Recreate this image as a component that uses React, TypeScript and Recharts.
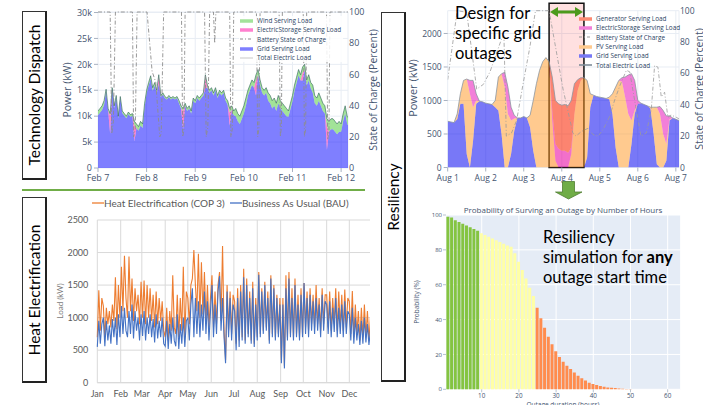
import React from 'react';
import {
  ComposedChart,
  LineChart,
  BarChart,
  Area,
  Line,
  Bar,
  Cell,
  XAxis,
  YAxis,
  CartesianGrid,
  ReferenceArea,
} from 'recharts';

// ---------- Technology Dispatch (Feb 7 - Feb 12), kW per hour ----------
const dispatchHours = [
  0, 1, 2, 3, 4, 5, 6, 7, 8, 9, 10, 11, 12, 13, 14, 15, 16, 17, 18, 19, 20, 21, 22, 23,
  24, 25, 26, 27, 28, 29, 30, 31, 32, 33, 34, 35, 36, 37, 38, 39, 40, 41, 42, 43, 44, 45, 46, 47,
  48, 49, 50, 51, 52, 53, 54, 55, 56, 57, 58, 59, 60, 61, 62, 63, 64, 65, 66, 67, 68, 69, 70, 71,
  72, 73, 74, 75, 76, 77, 78, 79, 80, 81, 82, 83, 84, 85, 86, 87, 88, 89, 90, 91, 92, 93, 94, 95,
  96, 97, 98, 99, 100, 101, 102, 103, 104, 105, 106, 107, 108, 109, 110, 111, 112, 113, 114, 115, 116, 117, 118, 119,
  120, 121, 122, 123, 124,
];
const dispatchGrid = [
  10200, 10700, 11200, 12200, 14800, 11100, 6600, 15100, 11600, 13600, 9600, 13400, 10600, 10100, 9600, 10400, 9900, 10100, 5200, 7700, 7200, 8200, 7700, 11700,
  14400, 15900, 17200, 14900, 15900, 14400, 16200, 13700, 14200, 13500, 13200, 13700, 13200, 13500, 13200, 13500, 12500, 11500, 7500, 12000, 11000, 11500, 10500, 13000,
  12500, 13500, 13000, 13500, 14000, 15500, 15500, 14500, 15000, 14000, 15000, 13500, 14500, 14000, 14500, 13000, 12200, 8200, 11200, 10200, 10000, 9000, 8500, 9500,
  10500, 12000, 14000, 15000, 16000, 15500, 14000, 18000, 16000, 14500, 14000, 14500, 13000, 12500, 11500, 12000, 11000, 12500, 11500, 11000, 10500, 10000, 9900, 11400,
  12900, 14900, 16400, 17900, 16900, 16900, 18900, 15900, 16900, 15400, 14500, 12500, 12000, 13000, 12000, 11000, 10500, 3500, 7000, 7500, 7500, 7000, 6500, 7000,
  7000, 9000, 10500, 8500, 8000,
];
const dispatchStorage = [
  0, 0, 0, 0, 0, 0, 3500, 0, 0, 0, 0, 0, 0, 0, 0, 0, 0, 0, 3000, 0, 0, 0, 0, 0,
  0, 0, 0, 0, 0, 0, 1500, 0, 0, 0, 0, 0, 0, 0, 0, 0, 0, 0, 3500, 0, 0, 0, 0, 0,
  0, 0, 0, 0, 0, 2000, 0, 0, 0, 0, 0, 0, 0, 0, 0, 0, 0, 2500, 0, 0, 0, 0, 0, 0,
  0, 0, 0, 0, 0, 0, 3000, 0, 0, 0, 0, 0, 0, 0, 0, 0, 0, 0, 0, 0, 0, 0, 0, 0,
  0, 0, 0, 0, 0, 1500, 0, 0, 0, 0, 0, 0, 0, 0, 0, 0, 0, 4500, 0, 0, 0, 0, 0, 0,
  0, 0, 0, 0, 0,
];
const dispatchWind = [
  800, 800, 800, 800, 400, 400, 400, 400, 400, 400, 400, 400, 400, 400, 400, 400, 400, 400, 800, 800, 800, 800, 800, 800,
  600, 600, 600, 600, 600, 600, 300, 300, 300, 300, 300, 300, 300, 300, 300, 300, 500, 500, 500, 500, 500, 500, 500, 500,
  500, 500, 500, 500, 500, 500, 500, 500, 500, 500, 500, 500, 500, 500, 500, 500, 800, 800, 800, 800, 1500, 1500, 1500, 1500,
  1500, 1500, 1000, 1000, 1000, 1000, 1000, 1000, 1000, 1000, 1000, 1000, 1500, 1500, 1500, 1500, 1500, 1500, 1500, 1500, 1500, 1500, 1100, 1100,
  1100, 1100, 1100, 1100, 1100, 1100, 1100, 1100, 1100, 1100, 1500, 1500, 1500, 1500, 1500, 1500, 1500, 1500, 2000, 2000, 2000, 2000, 2000, 2000,
  1500, 1500, 1500, 1500, 1500,
];
const dispatchSocHours = [
  0, 6, 6.8, 7.6, 8.6, 17, 17.6, 18.4, 19.3, 24.2, 26.7, 28.5, 30.5, 31.2, 32.4, 41.2, 41.8, 42.4, 43, 52.6, 53.4, 54.2,
  55.1, 57, 57.6, 58.2, 65, 65.6, 66.3, 67, 78.2, 78.8, 79.4, 80, 89.4, 90, 90.5, 91, 101.3, 101.9, 102.5, 103, 112.8,
  113.4, 114, 114.5, 123.4,
];
const dispatchSoc = [
  100, 100, 22, 30, 100, 100, 20, 25, 100, 100, 62, 55, 20, 22, 100, 100, 20, 24, 100, 100, 20, 26, 100, 100, 80, 100,
  100, 20, 25, 100, 100, 20, 25, 100, 100, 20, 26, 100, 100, 20, 25, 100, 100, 18, 24, 100, 100,
];
const dispatchTicks = [0, 24, 48, 72, 96, 120];
const dispatchTickLabels = ['Feb 7', 'Feb 8', 'Feb 9', 'Feb 10', 'Feb 11', 'Feb 12'];
const dispatchKwTicks = [0, 5000, 10000, 15000, 20000, 25000, 30000];

// ---------- Resiliency: outage design (Aug 1 - Aug 7), kW every 2 hours ----------
const outageHours = [
  0, 2, 4, 6, 8, 10, 12, 14, 16, 18, 20, 22, 24, 26, 28, 30, 32, 34, 36, 38, 40, 42, 44, 46, 48, 50, 52, 54, 56, 58, 60,
  62, 64, 66, 68, 70, 72, 74, 76, 78, 80, 82, 84, 86, 88, 90, 92, 94, 96, 98, 100, 102, 104, 106, 108, 110, 112, 114,
  116, 118, 120, 122, 124, 126, 128, 130, 132, 134, 136, 138, 140, 142, 144, 146,
];
const outageGrid = [
  690, 680, 670, 720, 950, 950, 200, 0, 400, 950, 990, 980, 960, 950, 940, 900, 850, 500, 0, 0, 200, 550, 740, 740, 760,
  740, 600, 250, 0, 0, 0, 0, 0, 0, 0, 0, 0, 0, 0, 0, 0, 0, 0, 0, 150, 900, 1080, 1060, 1050, 1040, 1030, 1020, 800, 300,
  0, 0, 0, 0, 350, 800, 950, 960, 940, 920, 880, 500, 50, 0, 0, 100, 700, 740, 720, 700,
];
const outagePv = [
  0, 0, 0, 80, 150, 350, 1120, 1100, 500, 50, 0, 0, 0, 0, 0, 100, 500, 900, 1200, 800, 500, 180, 0, 0, 0, 0, 180, 750,
  1250, 1450, 1580, 1640, 1580, 700, 100, 0, 0, 0, 0, 200, 800, 1150, 1300, 1340, 1150, 200, 0, 0, 0, 0, 0, 30, 300, 900,
  1300, 1280, 1050, 800, 350, 50, 0, 0, 0, 0, 20, 400, 850, 800, 500, 250, 20, 0, 0, 0,
];
const outageStorage = [
  0, 0, 0, 0, 0, 0, 0, 200, 400, 100, 0, 0, 0, 0, 0, 0, 0, 0, 220, 400, 200, 50, 0, 0, 0, 0, 0, 0, 0, 0, 0, 0, 0, 150,
  250, 280, 250, 250, 220, 100, 0, 0, 0, 0, 0, 0, 0, 0, 0, 0, 0, 0, 0, 0, 0, 60, 300, 580, 700, 450, 50, 0, 0, 0, 0, 0,
  0, 110, 350, 420, 50, 0, 0, 0,
];
const outageGenerator = [
  0, 0, 0, 0, 0, 0, 0, 0, 0, 0, 0, 0, 0, 0, 0, 0, 0, 0, 0, 0, 0, 0, 0, 0, 0, 0, 0, 0, 0, 0, 0, 0, 0, 500, 650, 670, 680,
  690, 700, 700, 450, 160, 40, 0, 0, 0, 0, 0, 0, 0, 0, 0, 0, 0, 0, 0, 0, 0, 0, 0, 0, 0, 0, 0, 0, 0, 0, 0, 0, 0, 0, 0, 0,
  0,
];
const outageSocHours = [
  0, 6, 12, 18.3, 22.5, 26.7, 34, 35.5, 37, 40.3, 43.5, 47.7, 51.9, 55.4, 64, 72.8, 79, 81, 84.4, 88.6, 91.7, 94.9, 98,
  102, 105.4, 108.6, 112.8, 114.9, 119, 122, 125.4, 128.5, 130.6, 132.7, 134.8, 136.9, 139, 141, 144.3, 146,
];
const outageSoc = [
  56, 100, 99, 50, 53, 61, 82, 84, 20, 22, 30, 54, 77, 100, 100, 50, 22, 20, 23, 25, 21, 20, 24, 32, 43, 52, 62, 61, 37,
  20, 22, 37, 65, 64, 45, 48, 32, 33.5, 32, 31,
];
const outageTicks = [0, 24, 48, 72, 96, 120, 144];
const outageTickLabels = ['Aug 1', 'Aug 2', 'Aug 3', 'Aug 4', 'Aug 5', 'Aug 6', 'Aug 7'];
const outageKwTicks = [0, 500, 1000, 1500, 2000];
const outageWindow = [64, 86];

// ---------- Heat Electrification, load (kW) every 2 days, Jan..Dec ----------
const heatCop3 = [
  700, 1420, 800, 1300, 1180, 700, 1150, 900, 1100, 850, 1200, 950, 1620, 820, 1500, 1000,
  1780, 1100, 1950, 1300, 1000, 1940, 1100, 1600, 950, 1450, 1100, 1350, 900, 1550,
  1000, 1570, 900, 1500, 1000, 1450, 950, 1350, 850, 1400, 900, 1300, 950, 1250, 800,
  700, 1150, 650, 1100, 800, 1650, 850, 750, 1350, 700, 1300, 800, 1780, 700, 1400,
  1300, 900, 1500, 1600, 2040, 1500, 1100, 1980, 1000, 1850, 1050, 1700, 950, 1500, 850, 1300,
  1650, 850, 1400, 900, 1500, 1700, 950, 2100, 800, 350, 1500, 800, 1400, 750, 1350,
  1250, 600, 1450, 650, 1500, 700, 1750, 650, 1600, 750, 1400, 650, 1550, 600, 1300,
  700, 1700, 750, 1450, 800, 1550, 850, 1400, 650, 1650, 750, 1500, 700, 1350, 750, 1300,
  350, 1300, 260, 1650, 700, 1700, 750, 1450, 700, 1600, 750, 1350, 700, 1450, 750,
  1530, 850, 1400, 800, 1450, 900, 1350, 850, 1500, 900, 1300, 800, 1450, 900, 1350,
  1350, 850, 1400, 800, 1300, 900, 1450, 800, 1400, 850, 1350, 800, 1430, 850, 1300,
  1250, 750, 1410, 700, 1200, 750, 1100, 650, 1150, 700, 1200, 700, 1100, 650, 1000, 850,
];
const heatBau = [
  550, 950, 600, 900, 1000, 560, 950, 650, 880, 600, 980, 700, 1000, 580, 1050, 700,
  1180, 750, 1150, 800, 700, 1100, 750, 1200, 680, 1100, 800, 1000, 650, 1050,
  720, 1100, 650, 1000, 750, 1050, 700, 980, 620, 1050, 680, 950, 700, 1000, 600,
  560, 950, 520, 900, 600, 1000, 650, 560, 1050, 520, 900, 600, 1000, 550, 950,
  1000, 650, 1200, 1450, 700, 1300, 750, 1250, 700, 1200, 800, 1400, 750, 1250, 650, 1100,
  1500, 700, 1200, 750, 1400, 1640, 800, 1300, 700, 300, 1400, 700, 1300, 650, 1200,
  1100, 500, 1300, 550, 1400, 650, 1620, 600, 1500, 700, 1300, 600, 1450, 550, 1200,
  650, 1660, 700, 1400, 750, 1500, 800, 1300, 600, 1600, 700, 1450, 650, 1300, 700, 1200,
  300, 1200, 220, 1450, 650, 1600, 700, 1300, 650, 1500, 700, 1200, 650, 1350, 700,
  1530, 750, 1300, 700, 1350, 800, 1250, 750, 1300, 800, 1200, 700, 1350, 800, 1250,
  1200, 750, 1250, 700, 1150, 780, 1300, 700, 1150, 750, 1200, 700, 1250, 750, 1100,
  1050, 650, 1150, 600, 1000, 650, 900, 580, 950, 600, 1000, 620, 900, 580, 800, 600,
];
const monthStartDays = [0, 31, 59, 90, 120, 151, 181, 212, 243, 273, 304, 334];
const monthNames = ['Jan', 'Feb', 'Mar', 'Apr', 'May', 'Jun', 'Jul', 'Aug', 'Sep', 'Oct', 'Nov', 'Dec'];
const heatKwTicks = [0, 500, 1000, 1500, 2000, 2500];

// ---------- Probability of surviving an outage ----------
const surviveHours = [
  1, 2, 3, 4, 5, 6, 7, 8, 9, 10, 11, 12, 13, 14, 15, 16, 17, 18, 19, 20, 21, 22, 23, 24, 25, 26, 27, 28, 29, 30, 31, 32,
  33, 34, 35, 36, 37, 38, 39, 40, 41, 42, 43, 44, 45, 46, 47, 48, 49, 50, 51,
];
const surviveProb = [
  99, 98.5, 97, 96, 95, 94, 93, 92, 91, 89.5, 88.5, 87.5, 86.5, 85.5, 84.5, 83.5, 82.5, 81.8, 78, 73.2, 68.4, 63.6, 58.3,
  53.5, 46.8, 40.7, 35.3, 30.2, 25.8, 21.9, 18.5, 15.8, 13.5, 11.6, 9.6, 7.8, 6.3, 5, 3.8, 3.1, 2.5, 1.9, 1.5, 1.1, 0.9,
  0.7, 0.5, 0.35, 0.2, 0.15, 0.1,
];
const surviveHourTicks = [10, 20, 30, 40, 50, 60];
const percentTicks = [0, 20, 40, 60, 80, 100];

// ---------- styles ----------
const PLOTLY_FONT = '"Open Sans", verdana, arial, sans-serif';
const PLOTLY_TEXT = '#44546f';
const PLOTLY_GRID = '#e8edf4';
const SLIDE_FONT = 'Lato, "Open Sans", sans-serif';
const EXCEL_TEXT = '#595959';

const plotlyTick = (size: number) => ({ fontSize: size, fill: PLOTLY_TEXT, fontFamily: PLOTLY_FONT });

function barColor(hour: number) {
  if (hour <= 9) return '#84c441';
  if (hour <= 24) return '#ffffa6';
  return '#ff8c4e';
}

function Caption({
  x,
  y,
  size,
  color = '#000',
  family = PLOTLY_FONT,
  rotate = 0,
  children,
}: {
  x: number;
  y: number;
  size: number;
  color?: string;
  family?: string;
  rotate?: number;
  children: React.ReactNode;
}) {
  return (
    <div
      style={{
        position: 'absolute',
        left: x,
        top: y,
        fontSize: size,
        color,
        fontFamily: family,
        whiteSpace: 'nowrap',
        lineHeight: 1,
        transform: `translate(-50%, -50%) rotate(${rotate}deg)`,
      }}
    >
      {children}
    </div>
  );
}

function SideLabel({ x, y, w, h, text }: { x: number; y: number; w: number; h: number; text: string }) {
  return (
    <div
      style={{
        position: 'absolute',
        left: x,
        top: y,
        width: w,
        height: h,
        boxSizing: 'border-box',
        borderTop: '1px solid #333',
        borderLeft: '1px solid #333',
        borderRight: '2px solid #222',
        borderBottom: '2px solid #222',
        display: 'flex',
        alignItems: 'center',
        justifyContent: 'center',
        background: '#fff',
      }}
    >
      <div style={{ transform: 'rotate(-90deg)', whiteSpace: 'nowrap', fontSize: 15.5, fontFamily: SLIDE_FONT }}>
        {text}
      </div>
    </div>
  );
}

type LegendItem = { name: string; color: string; kind: 'band' | 'dash' | 'line' };

function PlotlyLegend({ x, y, items, bg }: { x: number; y: number; items: LegendItem[]; bg?: string }) {
  return (
    <div
      style={{
        position: 'absolute',
        left: x,
        top: y,
        background: bg,
        fontFamily: PLOTLY_FONT,
        fontSize: 6.4,
        color: '#2a3f5f',
        paddingRight: 2,
      }}
    >
      {items.map((it) => (
        <div key={it.name} style={{ display: 'flex', alignItems: 'center', height: 9.3, whiteSpace: 'nowrap' }}>
          <svg width={15} height={6} style={{ marginRight: 3, flex: 'none' }}>
            <line
              x1={1}
              y1={3}
              x2={14}
              y2={3}
              stroke={it.color}
              strokeWidth={it.kind === 'band' ? 3.5 : it.kind === 'line' ? 1.6 : 1}
              strokeDasharray={it.kind === 'dash' ? '3 2 1 2' : undefined}
            />
          </svg>
          <span>{it.name}</span>
        </div>
      ))}
    </div>
  );
}

const dispatchLegend: LegendItem[] = [
  { name: 'Wind Serving Load', color: '#a3e39a', kind: 'band' },
  { name: 'ElectricStorage Serving Load', color: '#ff80cf', kind: 'band' },
  { name: 'Battery State of Charge', color: '#8c8c8c', kind: 'dash' },
  { name: 'Grid Serving Load', color: '#7f7fff', kind: 'band' },
  { name: 'Total Electric Load', color: '#dcdcdc', kind: 'line' },
];

const outageLegend: LegendItem[] = [
  { name: 'Generator Serving Load', color: '#fc8a72', kind: 'band' },
  { name: 'ElectricStorage Serving Load', color: '#f27fd9', kind: 'band' },
  { name: 'Battery State of Charge', color: '#9a9a9a', kind: 'dash' },
  { name: 'PV Serving Load', color: '#ffca8e', kind: 'band' },
  { name: 'Grid Serving Load', color: '#7777f5', kind: 'band' },
  { name: 'Total Electric Load', color: '#7f8c99', kind: 'line' },
];

function DispatchPanel() {
  const rows = dispatchHours.map((h, i) => ({
    h,
    grid: dispatchGrid[i],
    storage: dispatchStorage[i],
    wind: dispatchWind[i],
  }));
  const soc = dispatchSocHours.map((h, i) => ({ h, soc: dispatchSoc[i] }));
  return (
    <div style={{ position: 'absolute', left: 0, top: 0 }}>
      <ComposedChart width={370} height={190} data={rows} margin={{ top: 12, right: 0, bottom: 0, left: 0 }}>
        <CartesianGrid yAxisId="kw" stroke={PLOTLY_GRID} />
        <XAxis
          dataKey="h"
          type="number"
          domain={[0, 123.4]}
          allowDataOverflow
          ticks={dispatchTicks}
          interval={0}
          tickFormatter={(v) => dispatchTickLabels[dispatchTicks.indexOf(v)]}
          height={22}
          axisLine={false}
          tickSize={4}
          tickMargin={3}
          tickLine={{ stroke: '#a8b2c1' }}
          tick={plotlyTick(9)}
        />
        <YAxis
          yAxisId="kw"
          width={98}
          domain={[0, 30100]}
          allowDataOverflow
          ticks={dispatchKwTicks}
          interval={0}
          tickFormatter={(v) => (v === 0 ? '0' : `${v / 1000}k`)}
          axisLine={false}
          tickSize={4}
          tickMargin={2}
          tickLine={{ stroke: '#a8b2c1' }}
          tick={plotlyTick(9)}
        />
        <YAxis
          yAxisId="soc"
          orientation="right"
          width={22}
          domain={[0, 100]}
          ticks={percentTicks}
          interval={0}
          axisLine={false}
          tickLine={false}
          tickSize={0}
          tickMargin={1}
          tick={plotlyTick(9)}
        />
        <Area yAxisId="kw" stackId="d" type="linear" dataKey="grid" stroke="none" fill="#0000ff" fillOpacity={0.5} isAnimationActive={false} />
        <Area yAxisId="kw" stackId="d" type="linear" dataKey="storage" stroke="none" fill="#ff00a0" fillOpacity={0.5} isAnimationActive={false} />
        <Area yAxisId="kw" stackId="d" type="linear" dataKey="wind" stroke="#2e6259" strokeWidth={0.6} fill="#46c832" fillOpacity={0.5} isAnimationActive={false} />
        <Line yAxisId="soc" data={soc} dataKey="soc" type="linear" stroke="#8c8c8c" strokeWidth={0.9} strokeDasharray="4 2 1 2" dot={false} isAnimationActive={false} />
      </ComposedChart>
    </div>
  );
}

function OutagePanel() {
  const rows = outageHours.map((h, i) => ({
    h,
    grid: outageGrid[i],
    pv: outagePv[i],
    storage: outageStorage[i],
    gen: outageGenerator[i],
    total: outageGrid[i] + outagePv[i] + outageStorage[i] + outageGenerator[i],
  }));
  const soc = outageSocHours.map((h, i) => ({ h, soc: outageSoc[i] }));
  return (
    <div style={{ position: 'absolute', left: 370, top: 0 }}>
      <ComposedChart width={333} height={190} data={rows} margin={{ top: 10.7, right: 0, bottom: 0, left: 0 }}>
        <CartesianGrid yAxisId="kw" stroke={PLOTLY_GRID} />
        <XAxis
          dataKey="h"
          type="number"
          domain={[0, 146]}
          allowDataOverflow
          ticks={outageTicks}
          interval={0}
          tickFormatter={(v) => outageTickLabels[outageTicks.indexOf(v)]}
          height={22.5}
          axisLine={false}
          tickSize={4}
          tickMargin={3}
          tickLine={{ stroke: '#a8b2c1' }}
          tick={plotlyTick(8.5)}
        />
        <YAxis
          yAxisId="kw"
          width={77.7}
          domain={[0, 2340]}
          allowDataOverflow
          ticks={outageKwTicks}
          interval={0}
          axisLine={false}
          tickSize={4}
          tickMargin={2}
          tickLine={{ stroke: '#a8b2c1' }}
          tick={plotlyTick(8.5)}
        />
        <YAxis
          yAxisId="soc"
          orientation="right"
          width={24}
          domain={[0, 100]}
          ticks={percentTicks}
          interval={0}
          axisLine={false}
          tickLine={false}
          tickSize={0}
          tickMargin={1}
          tick={plotlyTick(8.5)}
        />
        <ReferenceArea
          yAxisId="kw"
          x1={outageWindow[0]}
          x2={outageWindow[1]}
          y1={0}
          y2={2450}
          ifOverflow="visible"
          fill="#ff0000"
          fillOpacity={0.12}
          stroke="#111"
          strokeWidth={1.5}
        />
        <Area yAxisId="kw" stackId="o" type="linear" dataKey="grid" stroke="none" fill="#0000f0" fillOpacity={0.53} isAnimationActive={false} />
        <Area yAxisId="kw" stackId="o" type="linear" dataKey="pv" stroke="none" fill="#ff9620" fillOpacity={0.5} isAnimationActive={false} />
        <Area yAxisId="kw" stackId="o" type="linear" dataKey="storage" stroke="none" fill="#e600b4" fillOpacity={0.5} isAnimationActive={false} />
        <Area yAxisId="kw" stackId="o" type="linear" dataKey="gen" stroke="none" fill="#fa2800" fillOpacity={0.5} isAnimationActive={false} />
        <Line yAxisId="kw" dataKey="total" type="linear" stroke="#8c96a0" strokeWidth={0.8} dot={false} isAnimationActive={false} />
        <Line yAxisId="soc" data={soc} dataKey="soc" type="linear" stroke="#9a9a9a" strokeWidth={0.8} strokeDasharray="4 2 1 2" dot={false} isAnimationActive={false} />
      </ComposedChart>
    </div>
  );
}

function HeatPanel() {
  const rows = heatBau.map((v, i) => ({ day: i * 2, bau: v, cop3: heatCop3[i] }));
  const legendText = { fontFamily: SLIDE_FONT, fontSize: 10, color: EXCEL_TEXT, whiteSpace: 'nowrap' as const };
  return (
    <div style={{ position: 'absolute', left: 0, top: 190, width: 370, height: 215, overflow: 'hidden' }}>
      <LineChart width={380} height={215} data={rows} margin={{ top: 30, right: 7.3, bottom: 0, left: 0 }}>
        <CartesianGrid stroke="#d9d9d9" />
        <XAxis
          dataKey="day"
          type="number"
          domain={[0, 365]}
          ticks={monthStartDays}
          interval={0}
          tickFormatter={(v) => monthNames[monthStartDays.indexOf(v)]}
          height={22.3}
          axisLine={{ stroke: '#d9d9d9' }}
          tickLine={false}
          tickSize={0}
          tickMargin={8}
          tick={{ fontSize: 9, fill: EXCEL_TEXT, fontFamily: SLIDE_FONT }}
        />
        <YAxis
          width={97.3}
          domain={[0, 2500]}
          ticks={heatKwTicks}
          interval={0}
          axisLine={false}
          tickLine={false}
          tickSize={0}
          tickMargin={9}
          tick={{ fontSize: 9, fill: EXCEL_TEXT, fontFamily: SLIDE_FONT }}
        />
        <Line dataKey="cop3" type="linear" stroke="#ed7d31" strokeWidth={1.1} dot={false} isAnimationActive={false} />
        <Line dataKey="bau" type="linear" stroke="#4472c4" strokeWidth={1.1} dot={false} isAnimationActive={false} />
      </LineChart>
      <div style={{ position: 'absolute', left: 92, top: 7, display: 'flex', alignItems: 'center', ...legendText }}>
        <svg width={12} height={4}><line x1={0} y1={2} x2={12} y2={2} stroke="#ed7d31" strokeWidth={1.3} /></svg>
        <span>Heat Electrification (COP 3)</span>
      </div>
      <div style={{ position: 'absolute', left: 230, top: 7, display: 'flex', alignItems: 'center', ...legendText }}>
        <svg width={12} height={4}><line x1={0} y1={2} x2={12} y2={2} stroke="#4472c4" strokeWidth={1.3} /></svg>
        <span>Business As Usual (BAU)</span>
      </div>
    </div>
  );
}

function SurvivalPanel() {
  const rows = surviveHours.map((hour, i) => ({ hour, p: surviveProb[i] }));
  return (
    <div style={{ position: 'absolute', left: 370, top: 195 }}>
      <BarChart width={333} height={225} data={rows} margin={{ top: 20, right: 22.3, bottom: 0, left: 0 }}>
        <CartesianGrid fill="#e5ecf6" stroke="#ffffff" />
        <XAxis
          dataKey="hour"
          type="number"
          domain={[0.4, 63.5]}
          allowDataOverflow
          ticks={surviveHourTicks}
          interval={0}
          height={30.7}
          axisLine={false}
          tickSize={3}
          tickMargin={1}
          tickLine={{ stroke: '#b8c2d0' }}
          tick={plotlyTick(6.3)}
        />
        <YAxis
          width={76}
          domain={[0, 100]}
          ticks={percentTicks}
          interval={0}
          axisLine={false}
          tickSize={3}
          tickMargin={1}
          tickLine={{ stroke: '#b8c2d0' }}
          tick={plotlyTick(6)}
        />
        <Bar dataKey="p" barSize={3} isAnimationActive={false}>
          {rows.map((r) => (
            <Cell key={r.hour} fill={barColor(r.hour)} />
          ))}
        </Bar>
      </BarChart>
    </div>
  );
}

export default function App() {
  return (
    <div
      style={{
        position: 'absolute',
        left: 0,
        top: 0,
        width: 703,
        height: 405,
        overflow: 'hidden',
        background: '#fff',
      }}
    >
      <DispatchPanel />
      <OutagePanel />
      <HeatPanel />
      <SurvivalPanel />

      {/* panel 1 texts */}
      <PlotlyLegend x={239} y={16} items={dispatchLegend} bg="rgba(255,255,255,0.85)" />
      <Caption x={67} y={90} size={10.5} color={PLOTLY_TEXT} rotate={-90}>Power (kW)</Caption>
      <Caption x={373} y={90} size={10.5} color={PLOTLY_TEXT} rotate={-90}>State of Charge (Percent)</Caption>

      {/* panel 2 texts */}
      <PlotlyLegend x={578} y={14} items={outageLegend} />
      <Caption x={412} y={88} size={11} color={PLOTLY_TEXT} rotate={-90}>Power (kW)</Caption>
      <Caption x={699} y={89} size={10.5} color={PLOTLY_TEXT} rotate={-90}>State of Charge (Percent)</Caption>
      <div style={{ position: 'absolute', left: 455, top: 3, fontFamily: SLIDE_FONT, fontSize: 16.5, lineHeight: '20px' }}>
        Design for
        <br />
        specific grid
        <br />
        outages
      </div>
      <svg width={40} height={16} style={{ position: 'absolute', left: 548, top: 4 }}>
        <line x1={8} y1={8} x2={28} y2={8} stroke="#4c9a1c" strokeWidth={3} />
        <polygon points="2,8 10,3 10,13" fill="#4c9a1c" />
        <polygon points="35,8 27,3 27,13" fill="#4c9a1c" />
      </svg>
      <svg width={30} height={20} style={{ position: 'absolute', left: 555, top: 181 }}>
        <polygon points="7.5,0.5 19.5,0.5 19.5,11 27,11 13.5,18 0.5,11 7.5,11" fill="#70ad47" stroke="#507e32" strokeWidth={0.8} />
      </svg>

      {/* panel 3 texts */}
      <Caption x={60} y={301} size={8} color="#7a7a7a" family={SLIDE_FONT} rotate={-90}>Load (kW)</Caption>

      {/* panel 4 texts */}
      <Caption x={563} y={210} size={8} color={PLOTLY_TEXT}>Probability of Surving an Outage by Number of Hours</Caption>
      <Caption x={417} y={302} size={6.5} color={PLOTLY_TEXT} rotate={-90}>Probability (%)</Caption>
      <Caption x={563} y={405} size={6.5} color={PLOTLY_TEXT}>Outage duration (hours)</Caption>
      <div style={{ position: 'absolute', left: 543, top: 227, fontFamily: SLIDE_FONT, fontSize: 16.5, lineHeight: '20px' }}>
        Resiliency
        <br />
        simulation for <b>any</b>
        <br />
        outage start time
      </div>

      {/* slide frame */}
      <div style={{ position: 'absolute', left: 22, top: 188.5, width: 343, height: 2, background: '#70ad47' }} />
      <SideLabel x={22} y={11} w={25} h={169} text="Technology Dispatch" />
      <SideLabel x={22} y={197} w={25} h={186} text="Heat Electrification" />
      <SideLabel x={381} y={12} w={25} h={370} text="Resiliency" />
    </div>
  );
}
